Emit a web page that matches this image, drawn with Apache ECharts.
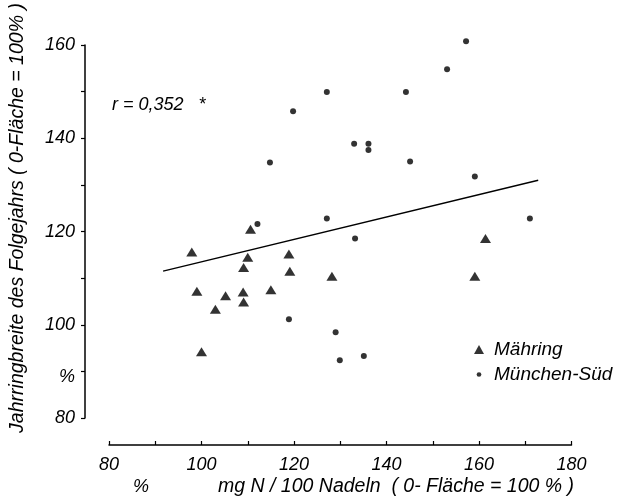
<!DOCTYPE html>
<html>
<head>
<meta charset="utf-8">
<script src="https://cdn.jsdelivr.net/npm/echarts@6/dist/echarts.min.js"></script>
<style>
html,body{margin:0;padding:0;background:#fff;}
#c{width:621px;height:500px;}
</style>
</head>
<body>
<div id="c"></div>
<script>
// Data
var seriesNames = ['Mähring', 'München-Süd'];
var maehringX = [110.6, 97.9, 110.0, 118.9, 109.1, 119.1, 128.2, 99.0, 105.2, 109.0, 115.0, 109.1, 103.0, 100.0, 161.4, 159.1];
var maehringY = [120.5, 115.6, 114.5, 115.2, 112.3, 111.5, 110.4, 107.2, 106.2, 107.0, 107.5, 104.9, 103.3, 94.2, 118.5, 110.4];
var muenchenX = [157.2, 153.1, 127.1, 144.2, 119.8, 133.0, 136.1, 136.1, 145.1, 114.8, 159.1, 127.1, 171.0, 112.1, 133.2, 118.9, 129.0, 129.9, 135.1];
var muenchenY = [160.8, 154.8, 149.9, 149.9, 145.8, 138.8, 138.8, 137.5, 135.0, 134.8, 131.8, 122.8, 122.8, 121.6, 118.5, 101.2, 98.4, 92.4, 93.3];
var regressionX = [91.7, 172.8];
var regressionY = [111.5, 131.0];
var xTickLabels = [80, 100, 120, 140, 160, 180];
var yTickLabels = [80, 100, 120, 140, 160];
var rText = 'r = 0,352   *';
var xTitle = 'mg N / 100 Nadeln  ( 0- Fläche = 100 % )';
var yTitle = 'Jahrringbreite des Folgejahrs ( 0-Fläche = 100% )';

function zip(a, b) { return a.map(function (v, i) { return [v, b[i]]; }); }

var FONT = 'Liberation Sans';
var chart = echarts.init(document.getElementById('c'), null, {renderer: 'canvas'});
var dotIcon = 'path://M0 0 M10 10 M7.6 5 A2.6 2.6 0 1 1 2.4 5 A2.6 2.6 0 1 1 7.6 5 Z';

chart.setOption({
  animation: false,
  backgroundColor: '#ffffff',
  grid: {left: 109, right: 49.5, top: 45, bottom: 82, containLabel: false},
  xAxis: {
    type: 'value', min: 80, max: 180, interval: 10, offset: 27,
    axisLine: {show: true, lineStyle: {color: '#000', width: 1.5}},
    axisTick: {show: true, inside: true, length: 4, lineStyle: {color: '#000', width: 1.2}},
    axisLabel: {
      margin: 11, color: '#000', fontStyle: 'italic', fontSize: 18, fontFamily: FONT,
      formatter: function (v) { return xTickLabels.indexOf(v) >= 0 ? String(v) : ''; }
    },
    splitLine: {show: false}
  },
  yAxis: {
    type: 'value', min: 80, max: 160, interval: 10, offset: 24,
    axisLine: {show: true, lineStyle: {color: '#000', width: 1.5}},
    axisTick: {show: true, inside: false, length: 4, lineStyle: {color: '#000', width: 1.2}},
    axisLabel: {
      margin: 10, color: '#000', fontStyle: 'italic', fontSize: 18, fontFamily: FONT,
      formatter: function (v) { return yTickLabels.indexOf(v) >= 0 ? String(v) : ''; }
    },
    splitLine: {show: false}
  },
  legend: {
    orient: 'vertical', left: 474, top: 340, itemWidth: 10, itemHeight: 9, itemGap: 6, padding: 0,
    textStyle: {color: '#000', fontStyle: 'italic', fontSize: 19, fontFamily: FONT, padding: [0, 0, 0, 5]},
    data: [
      {name: seriesNames[0], icon: 'triangle'},
      {name: seriesNames[1], icon: dotIcon}
    ]
  },
  graphic: [
    {type: 'text', left: 112, top: 96, style: {text: rText, fill: '#000', font: 'italic 18px "Liberation Sans"'}},
    {type: 'text', x: 67, y: 377, style: {text: '%', fill: '#000', font: 'italic 18px "Liberation Sans"', textAlign: 'center', textVerticalAlign: 'middle'}},
    {type: 'text', x: 141, y: 487, style: {text: '%', fill: '#000', font: 'italic 18px "Liberation Sans"', textAlign: 'center', textVerticalAlign: 'middle'}},
    {type: 'text', x: 218, y: 487, style: {text: xTitle, fill: '#000', font: 'italic 19.5px "Liberation Sans"', textAlign: 'left', textVerticalAlign: 'middle'}},
    {type: 'text', x: 18, y: 218, rotation: Math.PI / 2, style: {text: yTitle, fill: '#000', font: 'italic 19.5px "Liberation Sans"', textAlign: 'center', textVerticalAlign: 'middle'}}
  ],
  series: [
    {
      name: seriesNames[0], type: 'scatter', symbol: 'triangle', symbolSize: [11, 9], clip: false,
      itemStyle: {color: '#000'}, data: zip(maehringX, maehringY), z: 3
    },
    {
      name: seriesNames[1], type: 'scatter', symbol: 'circle', symbolSize: 6, clip: false,
      itemStyle: {color: '#000'}, data: zip(muenchenX, muenchenY), z: 3
    },
    {
      name: 'Regression', type: 'line', data: zip(regressionX, regressionY), symbol: 'none',
      lineStyle: {color: '#000', width: 1.4}, z: 2, silent: true
    }
  ]
});
</script>
</body>
</html>
